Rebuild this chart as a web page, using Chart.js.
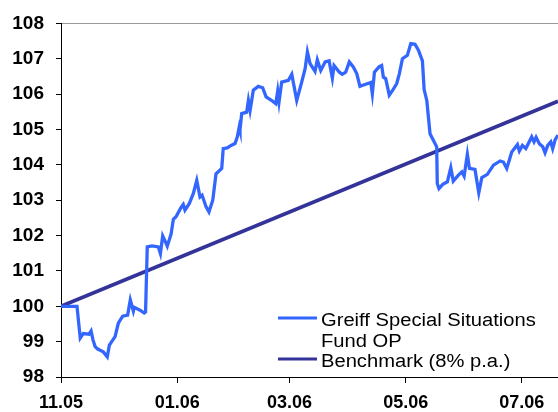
<!DOCTYPE html>
<html>
<head>
<meta charset="utf-8">
<script src="https://cdn.jsdelivr.net/npm/chart.js@4/dist/chart.umd.min.js"></script>
<style>
  html, body { margin: 0; padding: 0; background: #fff; }
  #wrap { width: 558px; height: 412px; }
</style>
</head>
<body>
<div id="wrap"><canvas id="chart" width="558" height="412"></canvas></div>
<script>
// days since 01.11.2005
const tickDays = [0, 61, 120, 181, 242];
const tickLabels = ['11.05', '01.06', '03.06', '05.06', '07.06'];
const seriesNames = ['Greiff Special Situations Fund OP', 'Benchmark (8% p.a.)'];

const fundDays = [0, 8.4, 10.1, 11.7, 14.7, 15.8, 16.8, 17.9, 19.3, 22.2, 24.3, 25.4, 28.4, 30.1, 32.4, 35.0,
  36.4, 38.0, 38.5, 41.5, 43.7, 44.4, 45.3, 47.8, 51.1, 52.2, 53.4, 55.1, 55.8, 57.8, 59.0, 60.4, 62.9,
  64.2, 65.1, 67.4, 69.5, 71.3, 73.0, 74.1, 76.2, 77.7, 79.7, 81.4, 84.4, 85.2, 87.3, 89.3, 91.4, 92.6,
  93.6, 94.0, 94.9, 97.5, 98.4, 99.3, 101.0, 103.6, 105.9, 107.7, 110.7, 112.8, 113.8, 114.5, 115.9,
  119.4, 121.2, 123.8, 126.4, 128.2, 129.4, 130.8, 133.4, 134.6, 136.4, 138.7, 140.8, 142.5, 143.4,
  146.2, 147.7, 149.5, 151.4, 153.5, 155.3, 157.0, 158.5, 162.7, 163.5, 164.6, 167.0, 168.4, 169.3,
  170.5, 172.4, 174.2, 176.3, 177.7, 179.3, 181.9, 183.7, 185.9, 187.7, 189.8, 190.7, 192.1, 193.8,
  195.6, 197.3, 197.6, 198.5, 200.5, 202.9, 204.7, 206.0, 208.7, 210.5, 211.7, 213.4, 214.5, 217.4,
  219.4, 221.0, 223.9, 227.1, 230.6, 232.3, 234.1, 236.7, 239.7, 240.7, 242.3, 244.1, 247.2, 248.4,
  249.5, 251.2, 253.0, 254.2, 255.6, 257.2, 258.2, 259.5, 261.0];
const fundValues = [100.0, 100.0, 99.10, 99.23, 99.21, 99.30, 99.05, 98.86, 98.79, 98.71, 98.57, 98.90, 99.14,
  99.52, 99.72, 99.75, 100.18, 99.86, 99.97, 99.89, 99.81, 99.84, 101.68, 101.71, 101.68, 101.49, 101.99,
  101.79, 101.70, 102.04, 102.46, 102.53, 102.78, 102.88, 102.72, 102.91, 103.19, 103.56, 103.09, 103.14,
  102.81, 102.67, 103.00, 103.75, 103.90, 104.46, 104.48, 104.55, 104.60, 104.79, 105.07, 104.98, 105.45,
  105.49, 105.82, 105.54, 106.11, 106.22, 106.18, 105.92, 105.82, 105.73, 106.09, 105.78, 106.34, 106.39,
  106.56, 105.82, 106.34, 106.72, 107.19, 106.86, 106.64, 106.97, 106.67, 106.91, 106.94, 106.45, 106.81,
  106.62, 106.56, 106.62, 106.91, 106.77, 106.58, 106.22, 106.25, 106.33, 106.01, 106.62, 106.77, 106.81,
  106.48, 106.44, 105.97, 106.11, 106.30, 106.58, 107.00, 107.10, 107.43, 107.41, 107.24, 106.94, 106.13,
  105.82, 104.88, 104.69, 104.51, 103.47, 103.33, 103.45, 103.52, 103.92, 103.54, 103.71, 103.80, 103.68,
  104.30, 103.90, 103.87, 103.21, 103.64, 103.73, 103.99, 104.11, 104.08, 103.90, 104.36, 104.57, 104.39,
  104.55, 104.46, 104.79, 104.65, 104.78, 104.60, 104.51, 104.34, 104.55, 104.65, 104.46, 104.71, 104.84];

const benchDays = [0, 261];
const benchValues = [100, 105.8];

const fundColor = '#3366ff';
const benchColor = '#333399';
const fontFamily = "'Liberation Sans', Arial, sans-serif";

function toPoints(xs, ys) {
  return xs.map((x, i) => ({ x: x, y: ys[i] }));
}

// legend drawn inside the plot, bottom right, with wrapped text
const insideLegend = {
  id: 'insideLegend',
  afterDraw(chart) {
    const ctx = chart.ctx;
    const area = chart.chartArea;
    const stretch = 1.12;
    const maxW = 230;
    const lineH = 20.5;
    let y = area.bottom - 51;
    ctx.save();
    ctx.font = '18px ' + fontFamily;
    ctx.fillStyle = '#000';
    ctx.textBaseline = 'alphabetic';
    chart.data.datasets.forEach(ds => {
      // word wrap
      const words = ds.label.split(' ');
      const lines = [];
      let cur = '';
      words.forEach(w => {
        const test = cur ? cur + ' ' + w : w;
        if (ctx.measureText(test).width * stretch > maxW && cur) {
          lines.push(cur);
          cur = w;
        } else {
          cur = test;
        }
      });
      lines.push(cur);

      ctx.strokeStyle = ds.borderColor;
      ctx.lineWidth = 3;
      ctx.beginPath();
      ctx.moveTo(area.right - 280, y - 8);
      ctx.lineTo(area.right - 241, y - 8);
      ctx.stroke();

      lines.forEach(t => {
        ctx.save();
        ctx.translate(area.right - 237, y);
        ctx.scale(stretch, 1);
        ctx.fillText(t, 0, 0);
        ctx.restore();
        y += lineH;
      });
    });
    ctx.restore();
  }
};

new Chart(document.getElementById('chart'), {
  type: 'line',
  data: {
    datasets: [
      {
        label: seriesNames[0],
        data: toPoints(fundDays, fundValues),
        borderColor: fundColor,
        borderWidth: 3.3,
        pointRadius: 0,
        tension: 0
      },
      {
        label: seriesNames[1],
        data: toPoints(benchDays, benchValues),
        borderColor: benchColor,
        borderWidth: 3.6,
        pointRadius: 0,
        tension: 0
      }
    ]
  },
  options: {
    responsive: false,
    animation: false,
    layout: { padding: { top: 23, right: 0, left: 0, bottom: 0 } },
    plugins: {
      legend: { display: false },
      tooltip: { enabled: false }
    },
    scales: {
      x: {
        type: 'linear',
        min: 0,
        max: 261,
        afterFit: s => { s.height = 35; },
        afterBuildTicks: s => { s.ticks = tickDays.map(v => ({ value: v })); },
        grid: { drawOnChartArea: false, tickLength: 6, tickColor: '#000' },
        border: { color: '#000', width: 1 },
        ticks: {
          autoSkip: false,
          maxRotation: 0,
          padding: 9,
          color: '#000',
          font: { family: fontFamily, size: 18, weight: 'bold' },
          callback: (v) => tickLabels[tickDays.indexOf(v)]
        }
      },
      y: {
        min: 98,
        max: 108,
        afterFit: s => { s.width = 61; },
        grid: {
          color: c => (c.tick && c.tick.value === 108) ? '#999' : 'rgba(0,0,0,0)',
          tickColor: '#000',
          tickLength: 5
        },
        border: { color: '#000', width: 1 },
        ticks: {
          stepSize: 1,
          padding: 12,
          color: '#000',
          font: { family: fontFamily, size: 19, weight: 'bold' }
        }
      }
    }
  },
  plugins: [insideLegend]
});
</script>
</body>
</html>
